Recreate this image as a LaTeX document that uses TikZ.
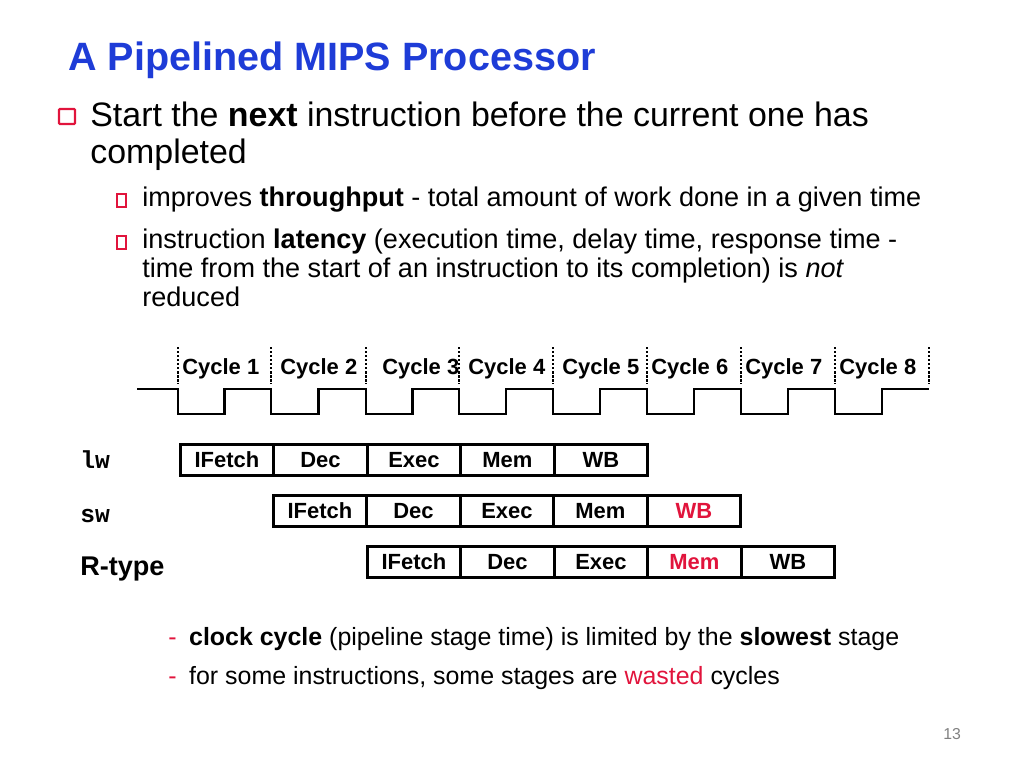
\documentclass[tikz,border=0pt]{standalone}
\usepackage{fontspec}
\setmainfont{Liberation Sans}
\setmonofont{Liberation Mono}
\definecolor{tblue}{RGB}{30,60,215}
\definecolor{tred}{RGB}{225,20,60}
\begin{document}
\begin{tikzpicture}[x=0.02cm,y=-0.02cm,
  txt/.style={anchor=base west,inner sep=0pt},
  stage/.style={draw,line width=1.6pt,minimum width=93*0.02cm,minimum height=31*0.02cm,inner sep=0pt,font=\fontsize{12.5}{14}\selectfont\bfseries,anchor=north west},
  cyc/.style={anchor=base west,inner sep=0pt,font=\fontsize{12.5}{14}\selectfont\bfseries},
  sq/.style={draw=tred,line width=1.3pt,rounded corners=0.5pt},
  sqs/.style={draw=tred,line width=0.7pt}]
\useasboundingbox (0,0) rectangle (1024,768);
\node[txt,font=\fontsize{22.5}{26}\selectfont\bfseries,text=tblue] (title) at (68,70) {A Pipelined MIPS Processor};
\draw[sq] (59,109) rectangle (75,124);
\node[txt,font=\fontsize{19.3}{22}\selectfont] (b1) at (90,126) {Start the \textbf{next} instruction before the current one has};
\node[txt,font=\fontsize{19.3}{22}\selectfont] (b1b) at (90,163) {completed};
\draw[sqs] (117,194) rectangle (126,207);
\node[txt,font=\fontsize{15.4}{18}\selectfont] (s1) at (142,206) {improves \textbf{throughput} - total amount of work done in a given time};
\draw[sqs] (117,236) rectangle (126,249);
\node[txt,font=\fontsize{15.4}{18}\selectfont] (s2) at (142,248) {instruction \textbf{latency} (execution time, delay time, response time -};
\node[txt,font=\fontsize{15.4}{18}\selectfont] (s2b) at (142,277) {time from the start of an instruction to its completion) is \textit{not}};
\node[txt,font=\fontsize{15.4}{18}\selectfont] (s2c) at (142,306) {reduced};
% cycles
\foreach \x in {178,271,366,459,553,647,741,835,929}
  \draw[densely dotted,line width=1.3pt] (\x,347) -- (\x,384);
\foreach \x/\n/\o in {178/1/4,271/2/9,366/3/16,459/4/9,553/5/9,647/6/4,741/7/4,835/8/4}
  \node[cyc] (c\n) at (\x+\o,374) {Cycle \n};
\draw[line width=1.3pt] (137,389) -- (178,389)
 \foreach \a/\b in {178/271,271/366,366/459,459/553,553/647,647/741,741/835,835/929}
 { -- (\a,414) -- ({(\a+\b)/2},414) -- ({(\a+\b)/2},389) -- (\b,389) };
% rows
\node[txt,font=\fontsize{14}{16}\selectfont\ttfamily\bfseries] (lw) at (80,468) {lw};
\node[txt,font=\fontsize{14}{16}\selectfont\ttfamily\bfseries] (sw) at (80,522) {sw};
\node[txt,font=\fontsize{15.4}{18}\selectfont\bfseries] (rt) at (80,575) {R-type};
\foreach \t [count=\i from 0] in {IFetch,Dec,Exec,Mem,WB}
  \node[stage] (l\i) at ({179+93.5*\i},443) {\t};
\foreach \t [count=\i from 0] in {IFetch,Dec,Exec,Mem,\textcolor{tred}{WB}}
  \node[stage] (w\i) at ({272+93.5*\i},494) {\t};
\foreach \t [count=\i from 0] in {IFetch,Dec,Exec,\textcolor{tred}{Mem},WB}
  \node[stage] (r\i) at ({366+93.5*\i},545) {\t};
% bottom
\node[txt,font=\fontsize{14.2}{17}\selectfont] (d1) at (168,645) {\textcolor{tred}{-}\enspace\textbf{clock cycle} (pipeline stage time) is limited by the \textbf{slowest} stage};
\node[txt,font=\fontsize{14.2}{17}\selectfont] (d2) at (168,684) {\textcolor{tred}{-}\enspace for some instructions, some stages are \textcolor{tred}{wasted} cycles};
\node[txt,font=\fontsize{9}{11}\selectfont,text=gray] (pg) at (943,739) {13};
\end{tikzpicture}
\end{document}
